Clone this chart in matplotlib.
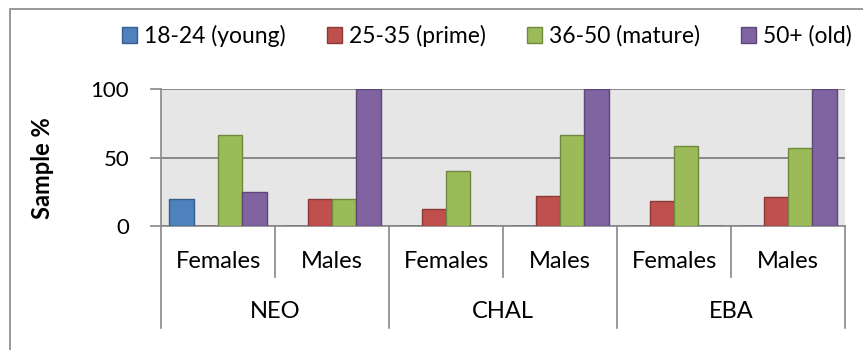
import matplotlib
matplotlib.use('Agg')
from matplotlib import pyplot as plt
from matplotlib.patches import Rectangle, Patch
from matplotlib.lines import Line2D
import numpy as np

plt.rcParams['font.family'] = ['Lato', 'DejaVu Sans']

groups = ['NEO', 'CHAL', 'EBA']
sexes = ['Females', 'Males']
series = ['18-24 (young)', '25-35 (prime)', '36-50 (mature)', '50+ (old)']

young = [20, 0, 0, 0, 0, 0]
prime = [0, 20, 12.5, 22.2, 18.2, 21.4]
mature = [66.7, 20, 40, 66.7, 58.3, 57.1]
old = [25, 100, 0, 100, 0, 100]

colors = ['#4F81BD', '#C0504D', '#9BBB59', '#8064A2']
edges = ['#385D8A', '#8C3836', '#71893F', '#5C4776']
grid_c = '#888888'

W, H = 863, 350
fig = plt.figure(figsize=(W / 100, H / 100), dpi=100)

# outer chart frame (cut off at right and bottom like the source)
fig.add_artist(Rectangle((10 / W, -0.2), 1.2, (H - 9) / H + 0.2,
                         transform=fig.transFigure, fill=False,
                         edgecolor=grid_c, lw=1.2))

L, R, T, B = 161, 845, 89, 226
ax = fig.add_axes([L / W, (H - B) / H, (R - L) / W, (B - T) / H])
ax.set_facecolor('#E6E6E6')

n = len(young)
x = np.arange(n) + 0.5
bw = 0.213
for k, vals in enumerate([young, prime, mature, old]):
    ax.bar(x + (k - 1.5) * bw, vals, bw, color=colors[k], edgecolor=edges[k],
           linewidth=1.0, label=series[k], zorder=3)

ax.set_xlim(0, n)
ax.set_ylim(0, 100)
ax.set_yticks([0, 50, 100])
ax.tick_params(axis='y', length=8, width=1.2, color=grid_c, pad=15, labelsize=16)
ax.tick_params(axis='x', length=0, labelbottom=False)
ax.yaxis.grid(True, color=grid_c, lw=1.4, zorder=1)
ax.set_axisbelow(True)
for s in ['top', 'right']:
    ax.spines[s].set_visible(False)
for s in ['left', 'bottom']:
    ax.spines[s].set_color(grid_c)
    ax.spines[s].set_linewidth(1.2)

fig.text(42 / W, (H - 168) / H, 'Sample %', rotation=90, ha='center', va='center',
         fontsize=17, fontweight='bold')

# two-level category axis
hp = B - T
for i in range(n + 1):
    depth = 102 if i % 2 == 0 else 51
    ax.add_line(Line2D([i, i], [0, -depth / hp], transform=ax.get_xaxis_transform(),
                       color=grid_c, lw=1.2, clip_on=False))
for i in range(n):
    ax.text(i + 0.5, -36 / hp, sexes[i % 2], transform=ax.get_xaxis_transform(),
            ha='center', va='center', fontsize=17)
for g, name in enumerate(groups):
    ax.text(2 * g + 1, -86 / hp, name, transform=ax.get_xaxis_transform(),
            ha='center', va='center', fontsize=17)

handles = [Patch(facecolor=colors[k], edgecolor=edges[k], label=series[k]) for k in range(4)]
fig.legend(handles=handles, loc='center', ncol=4, frameon=False,
           bbox_to_anchor=((122 + 852) / 2 / W, (H - 36) / H), fontsize=16.5,
           handlelength=0.65, handleheight=0.65, handletextpad=0.3, columnspacing=1.8)

fig.savefig('out.png', dpi=100)
